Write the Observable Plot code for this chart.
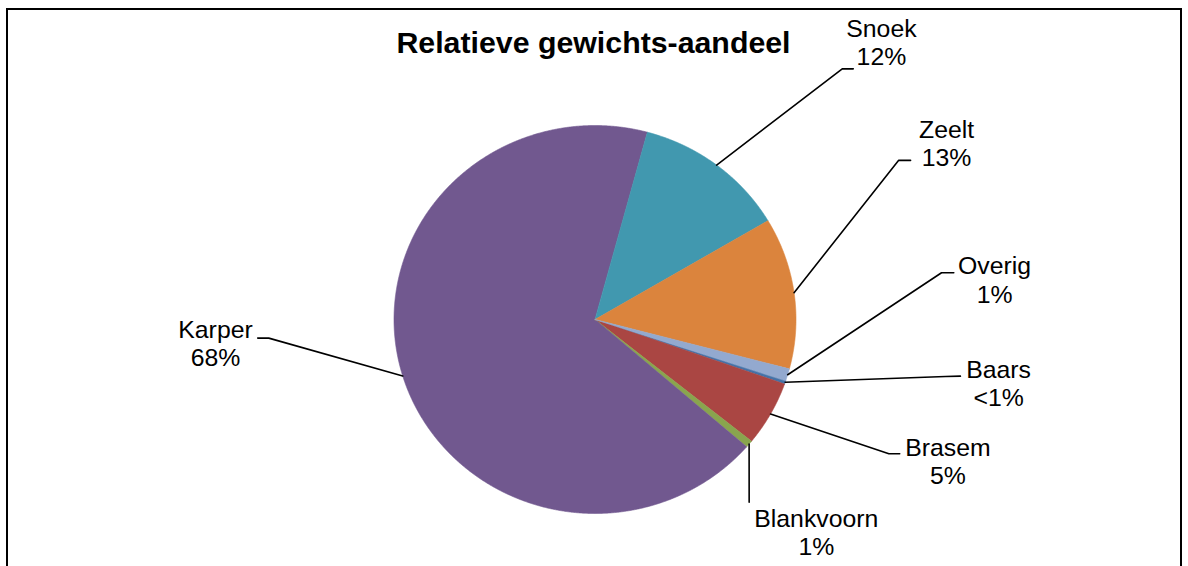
<!DOCTYPE html>
<html><head><meta charset="utf-8">
<script src="https://cdn.jsdelivr.net/npm/d3@7"></script>
<script src="https://cdn.jsdelivr.net/npm/@observablehq/plot@0.6"></script>
<style>
body{margin:0;background:#fff;}
#wrap{position:relative;width:1188px;height:566px;overflow:hidden;background:#fff;}
#border{position:absolute;left:6px;top:8px;width:1172px;height:620px;border:2px solid #000;border-bottom:none;pointer-events:none;}
</style></head><body>
<div id="wrap"><div id="chart"></div><div id="border"></div></div>
<script>
// ---- data ----
const names  = ["Baars", "Brasem", "Blankvoorn", "Karper", "Snoek", "Zeelt", "Overig"];
const shares = [0.3, 5.4, 0.6, 67.8, 12.3, 12.6, 1.0];
const colors = ["#4572A7", "#AA4643", "#89A54E", "#71588F", "#4198AF", "#DB843D", "#93A9CF"];
const title  = "Relatieve gewichts-aandeel";

// ---- layout (label anchors in pie-radius units) ----
const firstSliceAngle = 108.34; // degrees, clockwise from top
const labelLayout = {
  Baars:      {lx: 2.008, ly: -0.326, elbow: [1.744, -0.294], end: [1.818, -0.292]},
  Brasem:     {lx: 1.756, ly: -0.728, elbow: [1.462, -0.692], end: [1.516, -0.692]},
  Blankvoorn: {lx: 1.101, ly: -1.096, elbow: [0.767, -0.942], end: null},
  Karper:     {lx: -1.888, ly: -0.120, elbow: [-1.623, -0.096], end: [-1.678, -0.096]},
  Snoek:      {lx: 1.425, ly: 1.430, elbow: [1.230, 1.292], end: [1.285, 1.292]},
  Zeelt:      {lx: 1.749, ly: 0.910, elbow: [1.510, 0.820], end: [1.570, 0.820]},
  Overig:     {lx: 1.988, ly: 0.206, elbow: [1.724, 0.241], end: [1.785, 0.241]}
};

const data = names.map((n, i) => ({name: n, value: shares[i], color: colors[i]}));
const a0 = firstSliceAngle * Math.PI / 180;
const arcs = d3.pie().sort(null).value(d => d.value).startAngle(a0).endAngle(a0 + 2 * Math.PI)(data);

const slicePts = [];
for (const a of arcs) {
  const n = Math.max(2, Math.ceil((a.endAngle - a.startAngle) / (0.25 * Math.PI / 180)));
  slicePts.push({name: a.data.name, x: 0, y: 0});
  for (let k = 0; k <= n; k++) {
    const t = a.startAngle + (a.endAngle - a.startAngle) * k / n;
    slicePts.push({name: a.data.name, x: Math.sin(t), y: Math.cos(t)});
  }
}

const pctText = v => v < 0.5 ? "<1%" : Math.round(v) + "%";
const leaderPts = [];
const labels = [];
for (const a of arcs) {
  const L = labelLayout[a.data.name];
  const m = (a.startAngle + a.endAngle) / 2;
  leaderPts.push({name: a.data.name, x: Math.sin(m), y: Math.cos(m)});
  leaderPts.push({name: a.data.name, x: L.elbow[0], y: L.elbow[1]});
  if (L.end) leaderPts.push({name: a.data.name, x: L.end[0], y: L.end[1]});
  labels.push({x: L.lx, y: L.ly, text: a.data.name + "\n" + pctText(a.data.value)});
}

const cx = 594.5, cy = 319, rx = 201, ry = 194, W = 1188, H = 566;
const chart = Plot.plot({
  width: W, height: H,
  marginLeft: cx - rx, marginRight: W - (cx + rx),
  marginTop: cy - ry, marginBottom: H - (cy + ry),
  x: {domain: [-1, 1], axis: null},
  y: {domain: [-1, 1], axis: null},
  color: {domain: names, range: colors},
  style: {fontFamily: "'Liberation Sans', Arial, sans-serif", background: "transparent"},
  marks: [
    Plot.line(slicePts, {x: "x", y: "y", z: "name", fill: "name", stroke: "name", strokeWidth: 0.6, curve: "linear-closed"}),
    Plot.line(leaderPts, {x: "x", y: "y", z: "name", stroke: "#000", strokeWidth: 1.6}),
    Plot.text(labels, {x: "x", y: "y", text: "text", fontSize: 24.8, lineHeight: 1.14, fill: "#000", textAnchor: "middle"}),
    Plot.text([title], {x: () => -0.0075, y: () => 1.424, text: d => d, fontSize: 30.3, fontWeight: "bold", fill: "#000", textAnchor: "middle"})
  ]
});
document.getElementById("chart").appendChild(chart);
</script>
</body></html>
